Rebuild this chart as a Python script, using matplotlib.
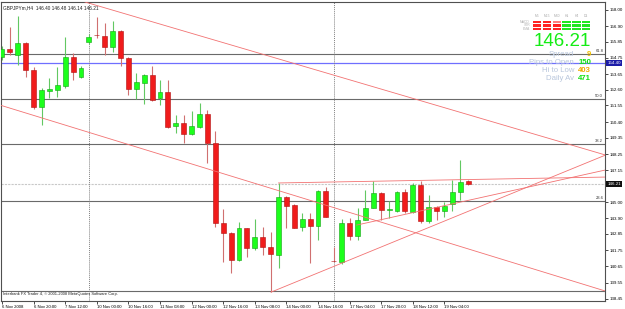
import numpy as np
import matplotlib
matplotlib.use("Agg")
import matplotlib.pyplot as plt

plt.rcParams['font.family'] = ['Liberation Sans', 'DejaVu Sans']

# GBPJPY H4 candles, 6 Nov 04:00 .. 19 Nov 16:00
opens = [154.82, 155.36, 154.95, 155.77, 153.94, 151.43, 152.52, 152.58, 152.85, 154.82,
         153.46, 155.83, 156.33, 156.24, 155.49, 156.58, 154.75, 152.65, 153.06, 153.60,
         152.04, 152.45, 150.15, 150.35, 149.60, 150.08, 150.96, 149.00, 143.58, 142.90,
         141.07, 143.24, 141.89, 142.63, 141.95, 141.41, 145.34, 144.80, 143.31, 143.85,
         143.38, 145.75, 141.04, 140.94, 143.58, 142.70, 143.78, 144.59, 145.61, 144.46,
         144.39, 145.68, 144.32, 146.15, 143.71, 144.66, 144.39, 144.87, 145.68, 146.40]
highs = [155.56, 156.85, 157.59, 155.83, 154.14, 152.72, 153.40, 154.14, 156.17, 155.09,
         154.21, 156.38, 157.53, 157.12, 157.26, 156.65, 154.82, 153.73, 153.67, 154.21,
         153.26, 153.26, 150.89, 150.89, 151.16, 151.70, 151.23, 149.81, 144.53, 142.97,
         143.65, 143.24, 143.85, 143.31, 142.97, 146.29, 145.41, 144.87, 144.26, 144.26,
         145.81, 146.02, 141.95, 143.85, 143.92, 144.59, 145.81, 146.42, 145.68, 145.07,
         145.75, 145.88, 146.29, 146.42, 145.47, 144.70, 145.00, 146.49, 147.84, 146.48]
lows = [154.61, 154.95, 154.28, 153.46, 151.30, 150.21, 152.04, 152.11, 152.72, 153.26,
        153.40, 155.70, 156.10, 154.95, 155.16, 154.21, 152.25, 151.97, 151.64, 151.84,
        151.57, 150.01, 149.67, 149.00, 149.54, 150.01, 147.64, 143.31, 140.94, 140.19,
        141.01, 141.28, 141.75, 141.41, 138.90, 140.53, 143.24, 143.24, 143.04, 140.87,
        142.43, 143.99, 140.94, 140.80, 142.43, 142.43, 143.78, 144.59, 143.78, 143.92,
        144.32, 144.26, 144.26, 143.58, 143.58, 143.78, 143.99, 144.39, 145.14, 146.14]
closes = [155.36, 155.16, 155.77, 153.94, 151.43, 152.58, 152.65, 152.92, 154.82, 153.80,
          154.07, 156.17, 156.28, 155.49, 156.58, 154.75, 152.65, 153.13, 153.60, 151.91,
          152.45, 150.08, 150.35, 149.60, 150.15, 150.96, 149.00, 143.58, 142.90, 141.07,
          143.24, 141.89, 142.63, 141.95, 141.48, 145.34, 144.73, 143.24, 143.85, 143.38,
          145.75, 143.99, 140.98, 143.58, 142.70, 143.78, 144.59, 145.61, 144.46, 144.50,
          145.68, 144.39, 146.15, 143.71, 144.66, 144.39, 144.73, 145.68, 146.35, 146.21]

tick_bars = [0, 4, 8, 12, 16, 20, 24, 28, 32, 36, 40, 44, 48, 52, 56]
tick_labels = ['6 Nov 2008', '6 Nov 20:00', '7 Nov 12:00', '10 Nov 00:00', '10 Nov 16:00',
               '11 Nov 08:00', '12 Nov 00:00', '12 Nov 16:00', '13 Nov 08:00', '14 Nov 00:00',
               '14 Nov 16:00', '17 Nov 04:00', '17 Nov 20:00', '18 Nov 12:00', '19 Nov 04:00']
price_ticks = [158.00, 156.90, 155.85, 154.75, 153.65, 152.60, 151.55, 150.40, 149.35,
               148.25, 147.15, 145.00, 143.90, 142.85, 141.75, 140.65, 139.55, 138.45]

separator_bars = [11, 42]
fib_prices = [138.97, 145.07, 148.93, 151.97, 155.02]
fib_labels = ['', '23.6', '38.2', '50.0', '61.8']
blue_level = 154.40
bid = 146.21

# trend lines: (bar, price) anchor pairs
trend_x = [[10.5, 76.4], [-0.3, 76.4], [34.05, 76.4], [44.9, 76.4], [35.0, 76.4]]
trend_y = [[158.54, 148.18], [151.57, 138.97], [138.90, 148.18], [143.44, 147.17], [146.29, 146.69]]

fig = plt.figure(figsize=(6.25, 3.09), dpi=100)
ax = fig.add_axes([1 / 625, 8 / 309, 604 / 625, 299 / 309])
ax.set_xlim(-0.13, 76.33)
ax.set_ylim(138.30, 158.54)

bars = np.arange(len(opens))
o = np.array(opens)
c = np.array(closes)
up = c >= o

# horizontal levels / separators
for p, lab in zip(fib_prices, fib_labels):
    ax.axhline(p, color='#6a6a6a', lw=0.8, zorder=1)
    if lab:
        ax.text(0.997, p + 0.08, lab, transform=ax.get_yaxis_transform(),
                ha='right', va='bottom', fontsize=3, color='#333333')
ax.axhline(blue_level, color='#6f6fff', lw=0.9, zorder=1)
ax.axhline(bid, color='#c8c8c8', lw=0.8, ls=(0, (2, 1)), zorder=1)
for s in separator_bars:
    ax.axvline(s, color='#808080', lw=0.7, ls=(0, (1, 1)), zorder=1)

# candles
ax.vlines(bars, lows, highs, colors=np.where(up, '#62c862', '#d07070'), lw=0.8, zorder=2)
ax.bar(bars, np.maximum(np.abs(c - o), 0.05), bottom=np.minimum(o, c), width=0.62,
       color=np.where(up, '#1cff1c', '#f01c1c'),
       edgecolor=np.where(up, '#14a014', '#b01010'), linewidth=0.4, zorder=3)

for xs, ys in zip(trend_x, trend_y):
    ax.plot(xs, ys, color='#f27272', lw=0.6, zorder=4)

# axes styling
for sp in ax.spines.values():
    sp.set_color('#505050')
    sp.set_linewidth(0.8)
ax.yaxis.tick_right()
ax.set_yticks(price_ticks, [f'{p:.2f}' for p in price_ticks])
ax.set_xticks(tick_bars, tick_labels)
for lbl in ax.get_xticklabels():
    lbl.set_horizontalalignment('left')
ax.tick_params(axis='y', labelsize=3.2, length=2, width=0.5, pad=1.5)
ax.tick_params(axis='x', labelsize=3.1, length=2, width=0.5, pad=0.6)

ytr = ax.get_yaxis_transform()
ax.text(1.004, bid, f'{bid:.2f}', transform=ytr, ha='left', va='center', fontsize=3.2,
        color='white', bbox=dict(boxstyle='square,pad=0.25', fc='#101010', ec='none'), zorder=6)
ax.text(1.004, blue_level, f'{blue_level:.2f}', transform=ytr, ha='left', va='center', fontsize=3.2,
        color='white', bbox=dict(boxstyle='square,pad=0.25', fc='#1c1ca8', ec='none'), zorder=6)

ax.text(0.003, 0.99, 'GBPJPYm,H4  146.40 146.48 146.14 146.21', transform=ax.transAxes,
        ha='left', va='top', fontsize=3.4, color='#202020')
ax.text(0.003, 0.022, 'Interbank FX Trader 4, \u00a9 2001-2008 MetaQuotes Software Corp.',
        transform=ax.transAxes, ha='left', va='center', fontsize=2.9, color='#202020')

# indicator panel (pixel overlay)
ov = fig.add_axes([0, 0, 1, 1], facecolor='none')
ov.set_xlim(0, 625)
ov.set_ylim(309, 0)
ov.axis('off')

frames = ['M5', 'M15', 'M30', 'H1', 'H4', 'D1']
rows = ['MACD', 'STR', 'EMA']
signal_colors = [['#ff2424', '#ff2424', '#ff8080', '#22e622', '#22e622', '#22e622'],
                 ['#ff2424', '#ff2424', '#ff2424', '#22e622', '#22e622', '#22e622'],
                 ['#ff2424', '#ff2424', '#ff2424', '#22e622', '#22e622', '#22e622']]
for j, fr in enumerate(frames):
    ov.text(537.2 + 9.8 * j, 16, fr, ha='center', va='center', fontsize=2.4, color='#a8a8a8')
for i, rw in enumerate(rows):
    ov.text(530, 21.8 + 3.5 * i, rw, ha='right', va='center', fontsize=2.4, color='#b4b4b4')
    for j in range(len(frames)):
        ov.add_patch(plt.Rectangle((533 + 9.8 * j, 20.5 + 3.5 * i), 8.4, 2.6,
                                   color=signal_colors[i][j], lw=0))

ov.text(591, 41, '146.21', ha='right', va='center', fontsize=13.5, color='#14ec14')
stat_names = ['Spread', 'Pips to Open', 'Hi to Low', 'Daily Av']
stat_values = ['9', '150', '403', '471']
stat_colors = ['#f2c000', '#10e010', '#f0a800', '#10e010']
for k, (nm, val, col) in enumerate(zip(stat_names, stat_values, stat_colors)):
    yy = 55 + 7.7 * k
    ov.text(574, yy, nm, ha='right', va='center', fontsize=5.6, color='#b8c6dc')
    ov.text(591, yy, val, ha='right', va='center', fontsize=5.6, color=col, fontweight='bold')

fig.savefig('out.png', dpi=100, facecolor='white')
